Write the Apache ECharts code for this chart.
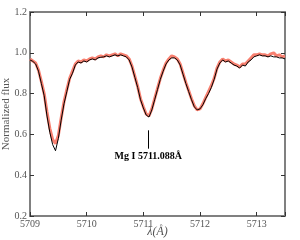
<!DOCTYPE html>
<html><head><meta charset="utf-8">
<script src="https://cdn.jsdelivr.net/npm/echarts@6/dist/echarts.min.js"></script>
<style>html,body{margin:0;padding:0;background:#fff}#c{width:300px;height:240px}</style>
</head><body><div id="c"></div>
<script>
const wavelength = [5709.00,5709.05,5709.10,5709.15,5709.20,5709.25,5709.30,5709.35,5709.40,5709.45,
5709.50,5709.55,5709.60,5709.65,5709.70,5709.75,5709.80,5709.85,5709.90,5709.95,
5710.00,5710.05,5710.10,5710.15,5710.20,5710.25,5710.30,5710.35,5710.40,5710.45,
5710.50,5710.55,5710.60,5710.65,5710.70,5710.75,5710.80,5710.85,5710.90,5710.95,
5711.00,5711.05,5711.10,5711.15,5711.20,5711.25,5711.30,5711.35,5711.40,5711.45,
5711.50,5711.55,5711.60,5711.65,5711.70,5711.75,5711.80,5711.85,5711.90,5711.95,
5712.00,5712.05,5712.10,5712.15,5712.20,5712.25,5712.30,5712.35,5712.40,5712.45,
5712.50,5712.55,5712.60,5712.65,5712.70,5712.75,5712.80,5712.85,5712.90,5712.95,
5713.00,5713.05,5713.10,5713.15,5713.20,5713.25,5713.30,5713.35,5713.40,5713.45,5713.50];
const observedFlux = [0.97,0.96,0.95,0.915,0.86,0.80,0.71,0.63,0.575,0.555,
0.595,0.68,0.76,0.82,0.875,0.91,0.945,0.96,0.955,0.965,
0.96,0.97,0.975,0.97,0.98,0.985,0.98,0.99,0.985,0.99,
0.995,0.985,0.995,0.99,0.985,0.97,0.935,0.885,0.835,0.775,
0.735,0.70,0.69,0.725,0.775,0.825,0.875,0.915,0.95,0.97,
0.985,0.98,0.97,0.945,0.90,0.855,0.815,0.775,0.74,0.72,
0.725,0.75,0.78,0.81,0.84,0.875,0.925,0.955,0.97,0.96,
0.965,0.955,0.945,0.94,0.93,0.945,0.945,0.96,0.975,0.99,
0.99,0.995,0.99,0.99,0.985,0.995,1.0,0.985,0.99,0.98,0.985];
const modelFlux = [0.965,0.958,0.945,0.91,0.85,0.79,0.69,0.61,0.55,0.52,
0.58,0.67,0.75,0.81,0.87,0.90,0.94,0.955,0.95,0.96,
0.955,0.965,0.97,0.965,0.975,0.978,0.98,0.985,0.98,0.985,
0.99,0.985,0.99,0.985,0.98,0.965,0.93,0.88,0.83,0.77,
0.73,0.695,0.685,0.72,0.77,0.82,0.87,0.91,0.945,0.965,
0.975,0.975,0.965,0.94,0.895,0.85,0.81,0.77,0.735,0.72,
0.725,0.745,0.775,0.80,0.83,0.87,0.92,0.95,0.965,0.955,
0.96,0.95,0.94,0.935,0.925,0.94,0.935,0.955,0.965,0.98,
0.985,0.99,0.985,0.985,0.98,0.985,0.98,0.98,0.975,0.975,0.97];
const xTicks = [5709,5710,5711,5712,5713];
const yTicks = [0.2,0.4,0.6,0.8,1.0,1.2];
const lineLabel = 'Mg I 5711.088Å';
const lineCenter = 5711.088;
const markerTop = 0.62, markerBottom = 0.53, labelY = 0.49;

const obs = wavelength.map((w,i)=>[w,observedFlux[i]]);
const mod = wavelength.map((w,i)=>[w,modelFlux[i]]);
const font = 'Liberation Serif';
const axisCol = '#808080', labCol = '#555';
const chart = echarts.init(document.getElementById('c'));
const xBase = {type:'value',min:5709,max:5713.5,interval:1,splitLine:{show:false},
  axisLine:{lineStyle:{color:axisCol,width:2}},axisTick:{inside:true,length:4,lineStyle:{color:'#333',width:1}}};
const yBase = {type:'value',min:0.2,max:1.2,interval:0.2,splitLine:{show:false},
  axisLine:{lineStyle:{color:axisCol,width:2}},axisTick:{inside:true,length:4,lineStyle:{color:'#333',width:1}}};
chart.setOption({
  animation:false,
  grid:{left:30,right:15,top:12,bottom:24,containLabel:false,outerBoundsMode:'none'},
  xAxis:[Object.assign({},xBase,{position:'bottom',
      axisLabel:{color:labCol,fontFamily:font,fontSize:10,margin:3,
        formatter:v=>xTicks.includes(v)?String(v):''},
      name:'λ(Å)',nameLocation:'middle',nameGap:10,nameMoveOverlap:false,
      nameTextStyle:{color:labCol,fontFamily:font,fontSize:12,fontStyle:'italic',verticalAlign:'top'}}),
    Object.assign({},xBase,{position:'top',axisLabel:{show:false}})],
  yAxis:[Object.assign({},yBase,{position:'left',
      axisLabel:{color:labCol,fontFamily:font,fontSize:10,margin:3,
        formatter:v=>yTicks.some(t=>Math.abs(t-v)<1e-6)?v.toFixed(1):''},
      name:'Normalized flux',nameLocation:'middle',nameGap:18,nameMoveOverlap:false,
      nameTextStyle:{color:labCol,fontFamily:font,fontSize:11}}),
    Object.assign({},yBase,{position:'right',axisLabel:{show:false}})],
  series:[
    {type:'line',data:obs,showSymbol:false,lineStyle:{color:'#f88070',width:3},z:2},
    {type:'line',data:mod,showSymbol:false,lineStyle:{color:'#000',width:1},z:3,
      markLine:{silent:true,symbol:'none',label:{show:false},lineStyle:{color:'#000',width:1,type:'solid'},
        data:[[{coord:[lineCenter,markerTop]},{coord:[lineCenter,markerBottom]}]]},
      markPoint:{symbol:'circle',symbolSize:0,silent:true,
        label:{show:true,formatter:lineLabel,color:'#000',fontFamily:font,fontSize:10,fontWeight:'bold',position:'inside'},
        data:[{coord:[lineCenter,labelY]}]}}
  ]
});
</script></body></html>
